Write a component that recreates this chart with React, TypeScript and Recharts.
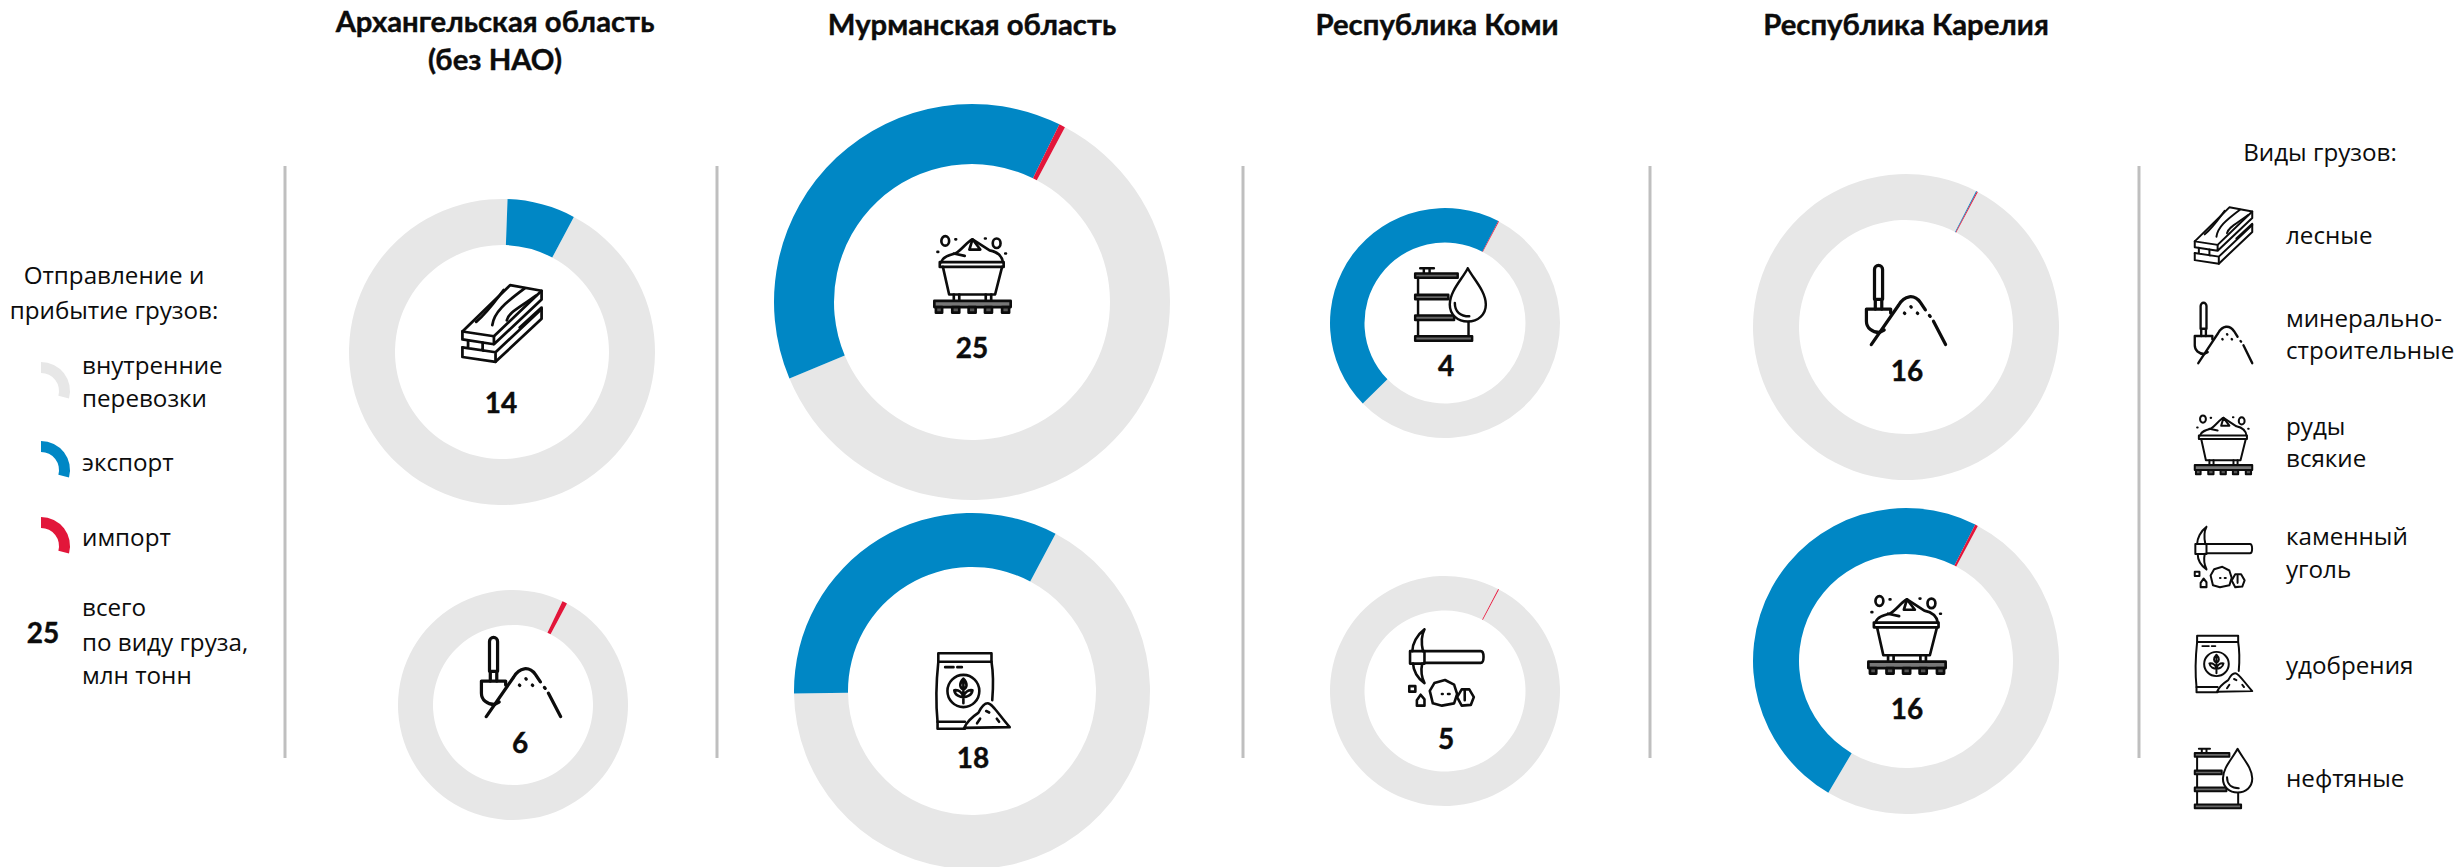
import React from 'react';
import { PieChart, Pie, Cell } from 'recharts';

// cargo flows per region, shares in %
const regions = ['Архангельская область (без НАО)', 'Мурманская область', 'Республика Коми', 'Республика Карелия'];
const cargoNames = ['лесные', 'минерально-строительные', 'руды всякие', 'удобрения', 'нефтяные', 'каменный уголь', 'минерально-строительные', 'руды всякие'];
const totals = [14, 6, 25, 18, 4, 5, 16, 16];
const internalShare = [92.8, 99.3, 60.9, 67, 54.9, 99.87, 99.8, 50.7];
const exportShare = [7.2, 0, 38.6, 33, 45, 0, 0.1, 49];
const importShare = [0, 0.7, 0.5, 0, 0.1, 0.13, 0.1, 0.3];
const sliceNames = ['внутренние перевозки', 'экспорт', 'импорт'];

const GREY = '#E7E7E7';
const BLUE = '#0087C5';
const RED = '#E2163A';
const sliceColors = [GREY, BLUE, RED];
const INK = '#0c0c0c';
const TITLE_FONT = 'Lato, "Open Sans", sans-serif';
const BODY_FONT = '"Open Sans", sans-serif';

// ring placement
const ringCx = [502, 513, 972, 972, 1445, 1445, 1906, 1906];
const ringCy = [352, 705, 302, 691, 323, 691, 327, 661];
const ringOuter = [153, 115, 198, 178, 115, 115, 153, 153];
const ringInner = [107, 80, 138, 124, 80.5, 80.5, 107, 107];
const iconKinds = ['wood', 'mineral', 'ore', 'fert', 'oil', 'coal', 'mineral', 'ore'];
const iconBox = [
  [460, 282, 84, 83],
  [479, 635, 84, 84],
  [932, 233, 81, 82],
  [933, 651, 79, 80],
  [1413, 266, 75, 77],
  [1407, 627, 79, 81],
  [1864, 263, 84, 84],
  [1866, 593, 82, 83],
];
const totalPos = [
  [501, 403],
  [520, 743],
  [972, 348],
  [973, 758],
  [1446, 366],
  [1446, 739],
  [1907, 371],
  [1907, 709],
];

const dividersX = [285, 717, 1243, 1650, 2139];

const ringData = (i: number) => [
  { name: sliceNames[0], value: internalShare[i] },
  { name: sliceNames[1], value: exportShare[i] },
  { name: sliceNames[2], value: importShare[i] },
];

const Icon = ({ kind, x, y, w, h }: { kind: string; x: number; y: number; w: number; h: number }) => {
  const s = { fill: 'none', stroke: INK, strokeWidth: 3.4, strokeLinejoin: 'round' as const, strokeLinecap: 'round' as const };
  let body: React.ReactNode = null;
  if (kind === 'wood') {
    body = (
      <g {...s}>
        <path d="M1 60 L60 2 L99 9 L40 66 Z" />
        <path d="M1 60 V70 L40 76 V66 M40 76 L99 20 V9" />
        <path d="M1 80 V92 L42 98 L99 44 V30 L72 55" />
        <path d="M1 80 L42 86 L99 32 M42 86 V98 M8 71 V81 M26 74 V84" />
        <path d="M18 48 C32 36 40 24 52 8 M38 52 C40 36 54 24 78 6 M56 46 C58 36 72 30 92 15" />
      </g>
    );
  } else if (kind === 'mineral') {
    body = (
      <g {...s} strokeWidth={4}>
        <path d="M11 43 V6 a5 5 0 0 1 10 0 V43 Z M12 43 V55 M20 43 V55" />
        <path d="M1 55 H31 V60 M1 55 V70 C1 78 8 84 17 84 L23 81" />
        <path d="M7 99 L41 50 C48 38 60 36 68 47 L74 56 M84 70 L99 99" />
        <path d="M79 63 L80 64 M48 60 L48.5 60.5 M56 52 L56.5 52.5 M64 60 L64.5 60.5" />
      </g>
    );
  } else if (kind === 'ore') {
    body = (
      <g {...s}>
        <rect x="8" y="35" width="82" height="6" />
        <path d="M12 41 L20 76 H79 L88 41" />
        <path d="M26 76 V84 M33 76 V84 M67 76 V84 M74 76 V84" />
        <rect x="1" y="84" width="98" height="8" fill="#777" />
        <path d="M3 92 H11 V99 H3 Z M24 92 H33 V99 H24 Z M45 92 H54 V99 H45 Z M66 92 H75 V99 H66 Z M88 92 H97 V99 H88 Z" fill="#555" />
        <path d="M10 35 C12 28 20 26 28 24 C36 20 44 8 50 6 L72 20 C82 22 88 28 89 35" />
        <path d="M50 6 L46 19 H60 Z M26 24 L40 27" />
        <ellipse cx="15" cy="8" rx="5" ry="6" />
        <ellipse cx="81" cy="11" rx="5" ry="6" />
        <path d="M5 22 L6 22 M28 6 L29 6 M66 5 L67 5 M92 24 L93 24" />
      </g>
    );
  } else if (kind === 'coal') {
    body = (
      <g {...s}>
        <path d="M21 29 H95 C100 29 100 44 95 44 H21" />
        <rect x="2" y="29" width="19" height="16" />
        <path d="M21 1 C11 8 5 20 5 29 M21 70 C12 64 6 54 6 45 M21 1 C16 10 17 20 19 29 M21 70 C17 62 16 54 18 45" />
        <path d="M28 80 L34 70 L48 66 L60 72 L64 84 L60 96 L44 99 L32 96 Z" />
        <path d="M64 88 L70 78 L80 78 L86 88 L82 98 L70 99 Z" />
        <path d="M11 92 L16 85 L21 91 V99 H11 Z" />
        <rect x="1" y="74" width="8" height="7" />
        <path d="M44 84 L45 84 M52 84 L54 84 M74 80 V92" />
      </g>
    );
  } else if (kind === 'fert') {
    body = (
      <g {...s}>
        <path d="M5 1 H75 V12 H5 Z" />
        <path d="M5 12 C2 40 2 70 4 90 M75 12 C78 30 77 50 76 62" />
        <path d="M4 90 H40 M4 90 V99 H40" />
        <path d="M14 19 H25 M30 19 H36" />
        <circle cx="38" cy="50" r="21" />
        <path d="M38 34 V66 M38 34 C32 40 33 46 38 48 C43 46 44 40 38 34 M38 58 C34 58 27 56 26 49 C32 48 37 52 38 58 M38 58 C42 58 49 56 50 49 C44 48 39 52 38 58" />
        <path d="M39 98 C43 88 52 82 58 78 C62 70 66 66 70 66 C76 66 84 80 99 97 Z" fill="#fff" />
        <path d="M56 92 L60 86 M68 76 L72 78 M82 86 L85 90" />
      </g>
    );
  } else if (kind === 'oil') {
    body = (
      <g {...s}>
        <path d="M8 1 H27 M13 1 V8 M21 1 V8" />
        <path d="M1 8 H60 V14 H1 Z" fill="#666" />
        <path d="M5 14 V93 M75 70 V93" />
        <path d="M1 37 H47 V43 H1 Z M1 65 H55 V71 H1 Z" fill="#666" />
        <path d="M1 93 H80 V99 H1 Z" fill="#666" />
        <path d="M74 1 C66 16 49 32 49 50 C49 64 60 73 74 73 C88 73 99 64 99 50 C99 32 82 16 74 1 Z" fill="#fff" />
        <path d="M56 48 C56 60 64 66 76 66" />
      </g>
    );
  }
  return (
    <svg x={x} y={y} width={w} height={h} viewBox="-2 -2 104 104" preserveAspectRatio="none" overflow="visible">
      {body}
    </svg>
  );
};

const T = ({ x, y, children, anchor = 'start', size = 24.2, bold = false, font = BODY_FONT }: any) => (
  <text
    x={x}
    y={y}
    textAnchor={anchor}
    dominantBaseline="middle"
    fontFamily={font}
    fontSize={size}
    fontWeight={bold ? 700 : 400}
    fill={INK}
    stroke={bold ? INK : 'none'}
    strokeWidth={bold ? 0.4 : 0}
  >
    {children}
  </text>
);

// digits sit on the baseline, y here is the digit's centre
const Num = ({ x, y, children }: any) => (
  <text x={x} y={y + 10} textAnchor="middle" fontFamily={TITLE_FONT} fontSize={28} fontWeight={700} fill={INK} stroke={INK} strokeWidth={0.4}>
    {children}
  </text>
);

// small one-slice arcs in the left legend
const swatchCy = [391, 470, 546];

export default function App() {
  return (
    <div style={{ position: 'absolute', left: 0, top: 0, width: 2456, height: 867, background: '#fff', overflow: 'hidden' }}>
      <div style={{ position: 'absolute', left: 0, top: 0 }}>
        <PieChart width={2456} height={867} margin={{ top: 0, right: 0, bottom: 0, left: 0 }}>
          {totals.map((_, i) => (
            <Pie
              key={i}
              data={ringData(i)}
              dataKey="value"
              nameKey="name"
              cx={ringCx[i]}
              cy={ringCy[i]}
              innerRadius={ringInner[i]}
              outerRadius={ringOuter[i]}
              startAngle={62}
              endAngle={-298}
              stroke="none"
              isAnimationActive={false}
            >
              {sliceColors.map((c) => (
                <Cell key={c} fill={c} />
              ))}
            </Pie>
          ))}
          {sliceNames.map((n, i) => (
            <Pie
              key={n}
              data={[{ name: n, value: 1 }]}
              dataKey="value"
              cx={41}
              cy={swatchCy[i]}
              innerRadius={18}
              outerRadius={29}
              startAngle={90}
              endAngle={-15}
              fill={sliceColors[i]}
              stroke="none"
              isAnimationActive={false}
            />
          ))}
        </PieChart>
      </div>
      <svg width={2456} height={867} style={{ position: 'absolute', left: 0, top: 0 }}>
        {dividersX.map((x) => (
          <line key={x} x1={x} x2={x} y1={166} y2={758} stroke="#BFBFBF" strokeWidth={3} />
        ))}

        <T x={495} y={24} anchor="middle" size={29.3} bold font={TITLE_FONT}>Архангельская область</T>
        <T x={495} y={62} anchor="middle" size={29.3} bold font={TITLE_FONT}>(без НАО)</T>
        <T x={972} y={27} anchor="middle" size={29.3} bold font={TITLE_FONT}>{regions[1]}</T>
        <T x={1437} y={27} anchor="middle" size={29.3} bold font={TITLE_FONT}>{regions[2]}</T>
        <T x={1906} y={27} anchor="middle" size={29.3} bold font={TITLE_FONT}>{regions[3]}</T>

        {totals.map((t, i) => (
          <g key={i}>
            <Icon kind={iconKinds[i]} x={iconBox[i][0]} y={iconBox[i][1]} w={iconBox[i][2]} h={iconBox[i][3]} />
            <Num x={totalPos[i][0]} y={totalPos[i][1]}>{t}</Num>
          </g>
        ))}

        <T x={114} y={278} anchor="middle">Отправление и</T>
        <T x={114} y={313} anchor="middle">прибытие грузов:</T>
        <T x={82} y={368}>внутренние</T>
        <T x={82} y={401}>перевозки</T>
        <T x={82} y={465}>экспорт</T>
        <T x={82} y={540}>импорт</T>
        <T x={82} y={610}>всего</T>
        <T x={82} y={645}>по виду груза,</T>
        <T x={82} y={678}>млн тонн</T>
        <Num x={43} y={633}>25</Num>

        <T x={2320} y={155} anchor="middle">Виды грузов:</T>
        <Icon kind="wood" x={2193} y={205} w={61} h={61} />
        <Icon kind="mineral" x={2193} y={301} w={61} h={64} />
        <Icon kind="ore" x={2193} y={413} w={61} h={63} />
        <Icon kind="coal" x={2193} y={525} w={61} h={64} />
        <Icon kind="fert" x={2193} y={634} w={61} h={60} />
        <Icon kind="oil" x={2193} y={747} w={61} h={63} />
        <T x={2286} y={238}>лесные</T>
        <T x={2286} y={321}>минерально-</T>
        <T x={2286} y={353}>строительные</T>
        <T x={2286} y={429}>руды</T>
        <T x={2286} y={461}>всякие</T>
        <T x={2286} y={539}>каменный</T>
        <T x={2286} y={572}>уголь</T>
        <T x={2286} y={668}>удобрения</T>
        <T x={2286} y={781}>нефтяные</T>
      </svg>
    </div>
  );
}
